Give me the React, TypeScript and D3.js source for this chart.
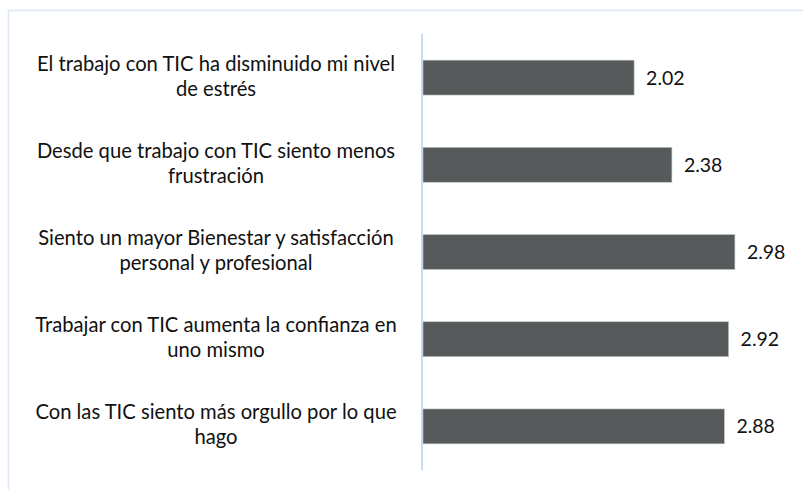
import React from "react";
import * as d3 from "d3";

const categories: string[][] = [
  ["El trabajo con TIC ha disminuido mi nivel", "de estrés"],
  ["Desde que trabajo con TIC siento menos", "frustración"],
  ["Siento un mayor Bienestar y satisfacción", "personal y profesional"],
  ["Trabajar con TIC aumenta la confianza en", "uno mismo"],
  ["Con las TIC siento más orgullo por lo que", "hago"],
];
const values: number[] = [2.02, 2.38, 2.98, 2.92, 2.88];

const W = 803;
const H = 489;
const FONT = "Lato, 'Open Sans', sans-serif";

export default function App() {
  const x0 = 422;
  const x = d3.scaleLinear().domain([0, 3.5]).range([x0, x0 + 105 * 3.5]);
  const keys = categories.map((_, i) => String(i));
  const y = d3.scaleBand<string>().domain(keys).range([34, 470]).paddingInner(0.6).paddingOuter(0.3);
  const labelX = 216;
  const lineH = 25;
  return (
    <div style={{ position: "absolute", left: 0, top: 0 }}>
      <svg width={W} height={H} style={{ display: "block" }}>
        <rect x={0} y={0} width={W} height={H} fill="#fff" />
        <line x1={8} x2={W} y1={10.5} y2={10.5} stroke="#dce7f3" strokeWidth={1.5} />
        <line x1={8.5} x2={8.5} y1={10} y2={H} stroke="#dce7f3" strokeWidth={1.5} />
        <line x1={x0} x2={x0} y1={34} y2={470} stroke="#c9dcef" strokeWidth={2} />
        {values.map((v, i) => {
          const yy = y(String(i))!;
          const bw = y.bandwidth();
          return (
            <g key={i}>
              <rect
                x={x(0) + 1}
                y={yy}
                width={x(v) - x(0) - 1}
                height={bw}
                fill="#575a5a"
                stroke="#bfc2c2"
                strokeWidth={0.6}
              />
              <text
                x={x(v) + 12}
                y={yy + bw / 2}
                dy="0.36em"
                fontFamily={FONT}
                fontSize={19.5}
                fill="#111"
              >
                {v.toFixed(2)}
              </text>
              <text
                x={labelX}
                textAnchor="middle"
                fontFamily={FONT}
                fontSize={20.2}
                fill="#111"
              >
                {categories[i].map((ln, j) => (
                  <tspan key={j} x={labelX} y={yy + bw / 2 - 1.5 + (j - (categories[i].length - 1) / 2) * lineH} dy="0.35em">
                    {ln}
                  </tspan>
                ))}
              </text>
            </g>
          );
        })}
      </svg>
    </div>
  );
}
